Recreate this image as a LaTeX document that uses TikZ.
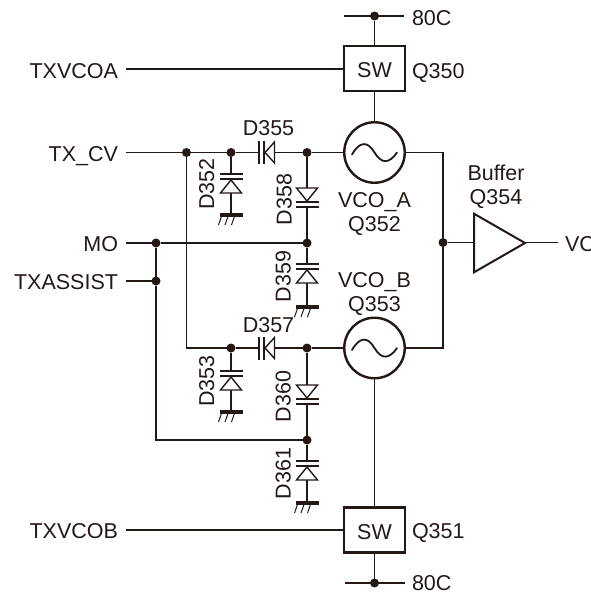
\documentclass[tikz,border=0pt]{standalone}
\usepackage{fontspec}
\setmainfont{Liberation Sans}
\definecolor{ink}{HTML}{231815}
\begin{document}
\begin{tikzpicture}[x=1pt,y=1pt,
  wire/.style={line width=1.9pt,draw=ink},
  lbl/.style={font=\fontsize{21.5}{24}\selectfont,text=ink,inner sep=0pt,outer sep=0pt,text height=15.4pt,text depth=0pt},
  vlbl/.style={lbl,rotate=90},
  dot/.style={circle,fill=ink,draw=none,minimum size=9pt,inner sep=0pt,outer sep=0pt},
  swbox/.style={draw=ink,line width=2.2pt,fill=white,minimum width=61pt,minimum height=45pt,inner sep=0pt,outer sep=0pt,font=\fontsize{21.5}{24}\selectfont,text=ink,text height=18pt,text depth=0pt},
  vco/.style={circle,draw=ink,line width=2.4pt,fill=white,minimum size=60.5pt,inner sep=0pt,outer sep=0pt},
  pics/diode/.style={code={
    \fill[white] (-11.5,0) rectangle (11.5,-5);
    \draw[ink,line width=2.5pt] (-11.5,0) -- (11.5,0);
    \draw[ink,line width=2.5pt] (-11.5,-5) -- (11.5,-5);
    \draw[ink,line width=1.4pt,fill=white,line join=miter] (0,-6) -- (10.5,-6-#1) -- (-10.5,-6-#1) -- cycle;
  }},
  pics/earth/.style={code={
    \draw[ink,line width=4pt] (-11.5,0) -- (11.5,0);
    \foreach \h in {-9,-2.5,4}
      \draw[ink,line width=1pt] (\h,0) -- ++(-3.5,-10);
  }},
  pics/wave/.style={code={
    \draw[ink,line width=1.8pt,line cap=round] (-22.5,-2) .. controls (-15,11) and (-7,12) .. (0,0) .. controls (7,-12) and (15,-11) .. (22.5,0);
  }}
]
\useasboundingbox (0,0) rectangle (591,-592);

% free ends and buffer corners
\coordinate (t1) at (344,-16);
\coordinate (t2) at (404,-16);
\coordinate (b1) at (345,-583);
\coordinate (b2) at (405,-583);
\coordinate (g352) at (231,-215);
\coordinate (g353) at (231,-412);
\coordinate (g359) at (307,-307);
\coordinate (g361) at (307,-503);
\coordinate (ba) at (474,-213.7);
\coordinate (bb) at (474,-272.3);
\coordinate (bc) at (525,-243);
\coordinate (bin) at (474,-242.5);
\coordinate (bout) at (558,-242.5);

% labels
\node[lbl,anchor=east] (txa) at (118,-70.5) {TXVCOA};
\node[lbl,anchor=east] (txcv) at (118,-154) {TX\_CV};
\node[lbl,anchor=east] (mo) at (118,-244) {MO};
\node[lbl,anchor=east] (txas) at (118,-281.5) {TXASSIST};
\node[lbl,anchor=east] (txb) at (118,-531) {TXVCOB};
\node[lbl,anchor=west] (c80a) at (412,-18) {80C};
\node[lbl,anchor=west] (c80b) at (412,-583) {80C};
\node[lbl,anchor=west] (q350) at (412,-70.5) {Q350};
\node[lbl,anchor=west] (q351) at (412,-531) {Q351};
\node[lbl] (buf) at (496,-172.5) {Buffer};
\node[lbl] (q354) at (496,-197) {Q354};
\node[lbl] (vca) at (374.5,-200) {VCO\_A};
\node[lbl] (q352) at (374.5,-223.5) {Q352};
\node[lbl] (vcb) at (374.5,-279.5) {VCO\_B};
\node[lbl] (q353) at (374.5,-304) {Q353};
\node[lbl] (d355) at (268.5,-127.5) {D355};
\node[lbl] (d357) at (268.5,-324.5) {D357};
\node[vlbl] (d352) at (206.5,-184) {D352};
\node[vlbl] (d358) at (284,-199.5) {D358};
\node[vlbl] (d359) at (283,-276.5) {D359};
\node[vlbl] (d353) at (206.5,-381) {D353};
\node[vlbl] (d360) at (283,-396.5) {D360};
\node[vlbl] (d361) at (283,-473.5) {D361};
\node[lbl,anchor=west] (vc) at (565,-243.5) {VC};

% junctions
\node[dot] (top) at (374.5,-16) {};
\node[dot] (bot) at (374.5,-583) {};
\node[dot] (j1) at (186.5,-152.5) {};
\node[dot] (j2) at (231,-152.5) {};
\node[dot] (j3) at (307,-152.5) {};
\node[dot] (j4) at (156,-243) {};
\node[dot] (j5) at (307,-243) {};
\node[dot] (j6) at (156,-281) {};
\node[dot] (j7) at (231,-348) {};
\node[dot] (j8) at (307,-348) {};
\node[dot] (j9) at (307,-440) {};
\node[dot] (j10) at (443,-242.5) {};

% switches and oscillators
\node[swbox] (swa) at (374.5,-68.5) {SW};
\node[swbox] (swb) at (374.5,-530) {SW};
\node[vco] (vcoa) at (374.5,-152.5) {};
\node[vco] (vcob) at (374.5,-348) {};
\pic at (374.5,-152.5) {wave};
\pic at (374.5,-348) {wave};

% connectors
\draw[wire] (t1) -- (t2);
\draw[wire] (b1) -- (b2);
\draw[wire] (top) -- (swa);
\draw[wire] (bot) -- (swb);
\draw[wire] (swa) -- (vcoa);
\draw[wire] (vcob) -- (swb);
\draw[wire] ([xshift=8pt]txa.east |- 0,-69) -- (swa.west |- 0,-69);
\draw[wire] ([xshift=8pt]txb.east |- swb.west) -- (swb.west);
\draw[wire] ([xshift=8pt]txcv.east |- j1) -- (j1);
\draw[wire] (j1) -- (j2) -- (j3) -- (vcoa);
\draw[wire] (j1) |- (j7);
\draw[wire] (j7) -- (j8) -- (vcob);
\draw[wire] ([xshift=8pt]mo.east |- j4) -- (j4);
\draw[wire] (j4) -- (j5);
\draw[wire] ([xshift=8pt]txas.east |- j6) -- (j6);
\draw[wire] (j4) -- (j6);
\draw[wire] (j6) |- (j9);
\draw[wire] (j3) -- (j5);
\draw[wire] (j5) -- (g359);
\draw[wire] (j8) -- (j9);
\draw[wire] (j9) -- (g361);
\draw[wire] (j2) -- (g352);
\draw[wire] (j7) -- (g353);
\draw[wire] (vcoa) -| (j10);
\draw[wire] (vcob) -| (j10);
\draw[wire] (j10) -- (bin);
\draw[wire] (bc |- bout) -- (bout);

\draw[ink,line width=2pt,fill=white,line join=miter] (ba) -- (bb) -- (bc) -- cycle;

% diodes and earths
\pic at (259,-152.5) [rotate=90] {diode=9.5};
\pic at (259,-348) [rotate=90] {diode=9.5};
\pic at (231,-174) {diode=13};
\pic at (231,-371) {diode=13};
\pic at (307,-264) {diode=13};
\pic at (307,-461) {diode=13};
\pic at (307,-207) [rotate=180] {diode=13};
\pic at (307,-404) [rotate=180] {diode=13};
\pic at (g352) {earth};
\pic at (g353) {earth};
\pic at (g359) {earth};
\pic at (g361) {earth};
\end{tikzpicture}
\end{document}
